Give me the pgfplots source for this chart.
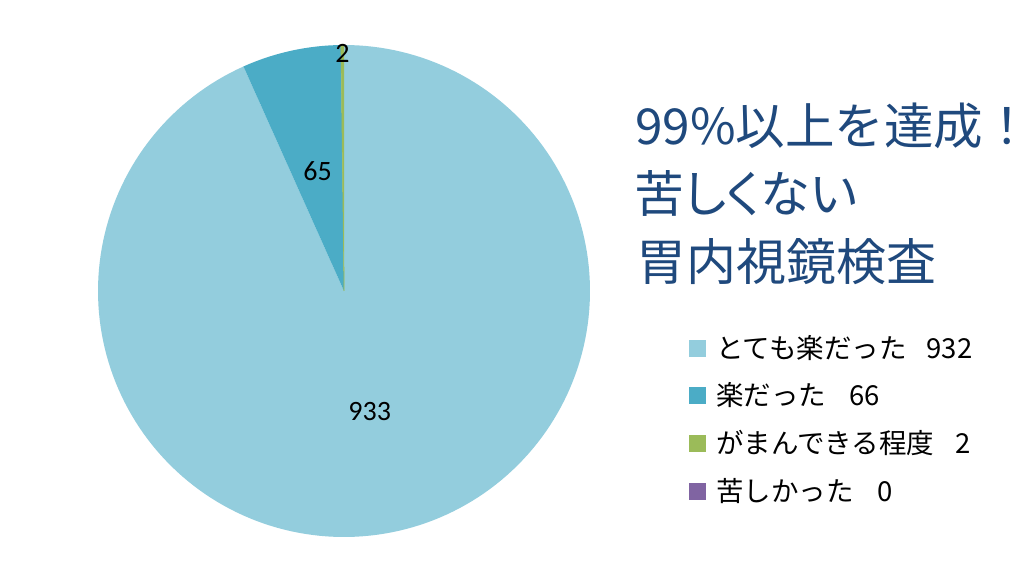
\documentclass[border=0pt]{standalone}
\usepackage{fontspec}
\setmainfont{Carlito}
\newfontfamily\jp{Noto Sans CJK JP}
\newfontfamily\jpp[RawFeature=+palt]{Noto Sans CJK JP}
\usepackage{pgfplots}
\pgfplotsset{compat=1.18}
\usepgfplotslibrary{polar}
\usepackage{pgfplotstable}

\definecolor{c1}{HTML}{93CDDD}
\definecolor{c2}{HTML}{4BACC6}
\definecolor{c3}{HTML}{9BBB59}
\definecolor{c4}{HTML}{8064A2}
\definecolor{ttl}{HTML}{1F497D}

% survey answers (data labels of the pie)
\pgfplotstableread{
idx value
0   933
1   65
2   2
3   0
}\piedata

\pgfplotstablegetelem{0}{value}\of\piedata \let\va\pgfplotsretval
\pgfplotstablegetelem{1}{value}\of\piedata \let\vb\pgfplotsretval
\pgfplotstablegetelem{2}{value}\of\piedata \let\vc\pgfplotsretval
\pgfplotstablegetelem{3}{value}\of\piedata \let\vd\pgfplotsretval
\pgfmathsetmacro\tot{\va+\vb+\vc+\vd}
% slices run clockwise from 12 o'clock
\pgfmathsetmacro\aA{90}
\pgfmathsetmacro\aB{\aA-360*(\va/\tot)}
\pgfmathsetmacro\aC{\aB-360*(\vb/\tot)}
\pgfmathsetmacro\aD{\aC-360*(\vc/\tot)}
\pgfmathsetmacro\mA{(\aA+\aB)/2}
\pgfmathsetmacro\mB{(\aB+\aC)/2}
\pgfmathsetmacro\mC{(\aC+\aD)/2}

\begin{document}
\begin{tikzpicture}[x=1pt,y=1pt]
  \useasboundingbox (0,0) rectangle (1019,583);
  \fill[white] (0,0) rectangle (1019,583);

  \begin{polaraxis}[
      at={(344pt,292pt)}, anchor=center,
      scale only axis, width=492pt, height=492pt,
      hide axis, ymin=0, ymax=1, clip=false
    ]
    \addplot[fill=c1, draw=none, domain=\aB:\aA, samples=200] {1} -- (axis cs:0,0) -- cycle;
    \addplot[fill=c2, draw=none, domain=\aC:\aB, samples=40] {1} -- (axis cs:0,0) -- cycle;
    \addplot[fill=c3, draw=c3, line width=0.5pt, domain=\aD:\aC, samples=5] {1} -- (axis cs:0,0) -- cycle;

    \node[font=\fontsize{28}{30}\selectfont] at (axis cs:\mA,0.5) {\va};
    \node[font=\fontsize{28}{30}\selectfont] at (axis cs:\mB,0.5) {\vb};
    \node[font=\fontsize{28}{30}\selectfont] at (axis cs:\mC,0.965) {\vc};
  \end{polaraxis}

  % title
  \begin{scope}[every node/.style={anchor=base west, inner sep=0pt,
      text=ttl, font=\jp\fontsize{50}{55}\selectfont}]
    \node[font=\jp\fontsize{49.5}{55}\selectfont] at (635,583-145) {99\%以上を達成\hspace{12pt}{\jpp ！}};
    \node[font=\jpp\fontsize{50}{55}\selectfont] at (634,583-213) {苦しくない};
    \node at (636,583-281) {胃内視鏡検査};
  \end{scope}

  % legend
  \fill[c1] (689,583-357.5) rectangle (706,583-340.5);
  \fill[c2] (689,583-404.5) rectangle (706,583-387.5);
  \fill[c3] (689,583-452.5) rectangle (706,583-435.5);
  \fill[c4] (689,583-500.5) rectangle (706,583-483.5);
  \begin{scope}[every node/.style={anchor=base west, inner sep=0pt,
      font=\jp\fontsize{27.5}{30}\selectfont}]
    \node at (716,583-359) {とても楽だった\hspace{20pt}932};
    \node at (716,583-406) {楽だった\hspace{23pt}66};
    \node at (716,583-454) {がまんできる程度\hspace{21pt}2};
    \node at (716,583-502) {苦しかった\hspace{24pt}0};
  \end{scope}
\end{tikzpicture}
\end{document}
